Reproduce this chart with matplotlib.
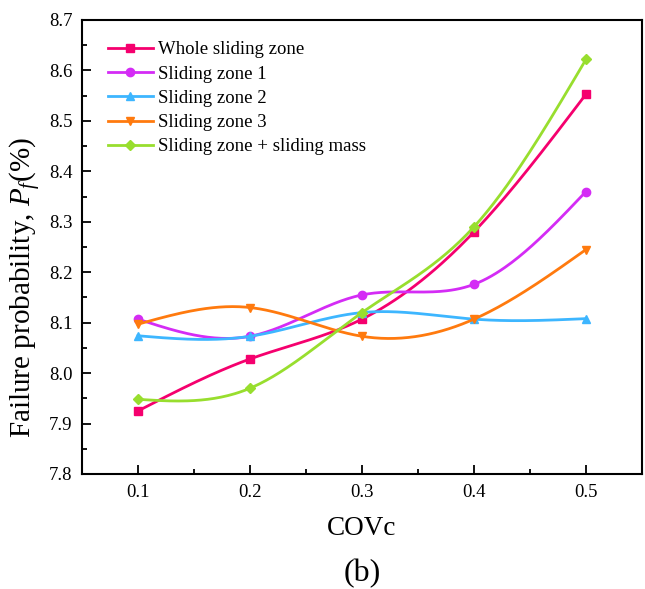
import numpy as np
import matplotlib
matplotlib.use("Agg")
import matplotlib.pyplot as plt
from matplotlib.ticker import MultipleLocator

plt.rcParams['font.family'] = ['Liberation Serif', 'DejaVu Serif']
plt.rcParams['mathtext.fontset'] = 'custom'
plt.rcParams['mathtext.it'] = 'Liberation Serif:italic'
plt.rcParams['mathtext.rm'] = 'Liberation Serif'

cov = [0.1, 0.2, 0.3, 0.4, 0.5]
whole_zone = [7.925, 8.028, 8.107, 8.280, 8.553]
zone1 = [8.107, 8.073, 8.155, 8.176, 8.360]
zone2 = [8.074, 8.073, 8.120, 8.107, 8.108]
zone3 = [8.097, 8.130, 8.073, 8.107, 8.245]
zone_mass = [7.948, 7.970, 8.120, 8.290, 8.622]

labels = ["Whole sliding zone", "Sliding zone 1", "Sliding zone 2",
          "Sliding zone 3", "Sliding zone + sliding mass"]
colors = ["#F5006E", "#D42CF5", "#3DB6FF", "#FF7A0E", "#98DE2E"]
markers = ["s", "o", "^", "v", "D"]


def natural_spline(x, y, n=200):
    x = np.asarray(x, float); y = np.asarray(y, float)
    m = len(x); h = np.diff(x)
    A = np.zeros((m, m)); b = np.zeros(m)
    A[0, 0] = 1; A[-1, -1] = 1
    for i in range(1, m - 1):
        A[i, i - 1] = h[i - 1]; A[i, i] = 2 * (h[i - 1] + h[i]); A[i, i + 1] = h[i]
        b[i] = 6 * ((y[i + 1] - y[i]) / h[i] - (y[i] - y[i - 1]) / h[i - 1])
    M = np.linalg.solve(A, b)
    xs = np.linspace(x[0], x[-1], n)
    idx = np.clip(np.searchsorted(x, xs) - 1, 0, m - 2)
    x0 = x[idx]; x1 = x[idx + 1]; hh = x1 - x0
    ys = (M[idx] * (x1 - xs) ** 3 / (6 * hh) + M[idx + 1] * (xs - x0) ** 3 / (6 * hh)
          + (y[idx] / hh - M[idx] * hh / 6) * (x1 - xs)
          + (y[idx + 1] / hh - M[idx + 1] * hh / 6) * (xs - x0))
    return xs, ys


fig = plt.figure(figsize=(6.45, 5.89), dpi=100)
# axes: left 82px, right 642px, top 20px, bottom 474px
ax = fig.add_axes([82 / 645, (589 - 474) / 589, 560 / 645, 454 / 589])

series = [whole_zone, zone1, zone2, zone3, zone_mass]
for vals, lab, c, mk in zip(series, labels, colors, markers):
    xs, ys = natural_spline(cov, vals)
    ax.plot(xs, ys, color=c, lw=2)
    ms = 6 if mk != "D" else 5.5
    ax.plot(cov, vals, linestyle='none', marker=mk, color=c, ms=ms)
    ax.plot([], [], color=c, lw=2, marker=mk, ms=ms, label=lab)

ax.set_xlim(0.05, 0.55)
ax.set_ylim(7.8, 8.7)
ax.xaxis.set_minor_locator(MultipleLocator(0.05))
ax.yaxis.set_major_locator(MultipleLocator(0.1))
ax.yaxis.set_minor_locator(MultipleLocator(0.05))
ax.set_xticks(cov)
ax.set_xticklabels(["0.1", "0.2", "0.3", "0.4", "0.5"])
ax.tick_params(which='both', direction='in', top=False, right=False, labelsize=13.5, width=1.3)
ax.tick_params(which='major', length=6.5)
ax.tick_params(axis='x', which='major', pad=7)
ax.tick_params(axis='y', which='major', pad=7)
ax.tick_params(which='minor', length=3.5)
for s in ax.spines.values():
    s.set_linewidth(1.5)

ax.set_xlabel("COVc", fontsize=19.5)
ax.xaxis.set_label_coords(0.5, -0.092)
ax.set_ylabel("Failure probability, $P_f$(%)", fontsize=21)
ax.yaxis.set_label_coords(-0.07, 0.41)

ax.legend(loc='upper left', frameon=False, fontsize=13.5, handlelength=2.4,
          labelspacing=0.38, bbox_to_anchor=(0.046, 0.953), handletextpad=0.3,
          borderpad=0, borderaxespad=0)

fig.text(0.561, 1 - 573.5 / 589, "(b)", fontsize=23, ha='center', va='center')

fig.savefig("out.png", dpi=100, facecolor='white')
